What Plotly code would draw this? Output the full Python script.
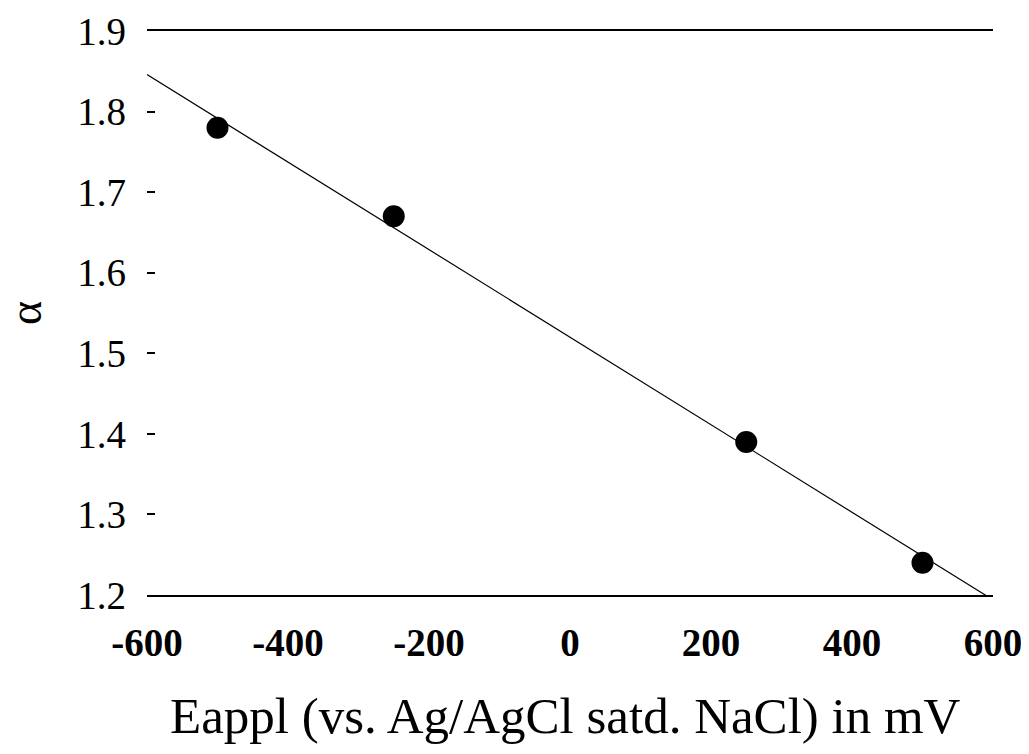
import plotly.graph_objects as go

# Data
e_appl = [-500, -250, 250, 500]
alpha_vals = [1.78, 1.67, 1.39, 1.24]
fit_x = [-600, 600]
fit_y = [1.846, 1.194]
x_ticks = [-600, -400, -200, 0, 200, 400, 600]
y_ticks = [1.2, 1.3, 1.4, 1.5, 1.6, 1.7, 1.8, 1.9]
x_title = "Eappl (vs. Ag/AgCl satd. NaCl) in mV"
y_title = "α"

FONT = "Liberation Serif"
PW, PH = 846, 564  # plot area size

fig = go.Figure()
fig.add_trace(go.Scatter(x=fit_x, y=fit_y, mode="lines",
                         line=dict(color="black", width=1.2), showlegend=False))
fig.add_trace(go.Scatter(x=e_appl, y=alpha_vals, mode="markers",
                         marker=dict(color="black", size=22), showlegend=False))

fig.update_layout(
    width=1029, height=754,
    margin=dict(l=139, r=44, t=23, b=167, autoexpand=False),
    paper_bgcolor="white", plot_bgcolor="white",
    font=dict(family=FONT, color="black", size=38),
    xaxis=dict(range=[-600, 600], tickvals=x_ticks,
               ticktext=[str(v) for v in x_ticks],
               showgrid=False, zeroline=False, automargin=False,
               showline=True, linecolor="black", linewidth=2, mirror=True,
               ticks="", ticklabelstandoff=12,
               tickfont=dict(family=FONT, size=39, weight="bold")),
    yaxis=dict(range=[1.2, 1.9], tickvals=y_ticks,
               ticktext=[f"{v:.1f}" for v in y_ticks],
               showgrid=False, zeroline=False, showline=False, automargin=False,
               ticks="inside", ticklen=8, tickwidth=1.5, tickcolor="black",
               ticklabelstandoff=20,
               tickfont=dict(family=FONT, size=39)),
    annotations=[
        dict(text=x_title, xref="paper", yref="paper", x=(565 - 147) / PW, y=-(716 - 595) / PH,
             xanchor="center", yanchor="middle", showarrow=False,
             font=dict(family=FONT, size=51)),
        dict(text=y_title, xref="paper", yref="paper", x=-(147 - 25) / PW, y=0.5,
             xanchor="center", yanchor="middle", showarrow=False, textangle=-90,
             font=dict(family=FONT, size=46)),
    ],
)

fig.write_html("out.html")
